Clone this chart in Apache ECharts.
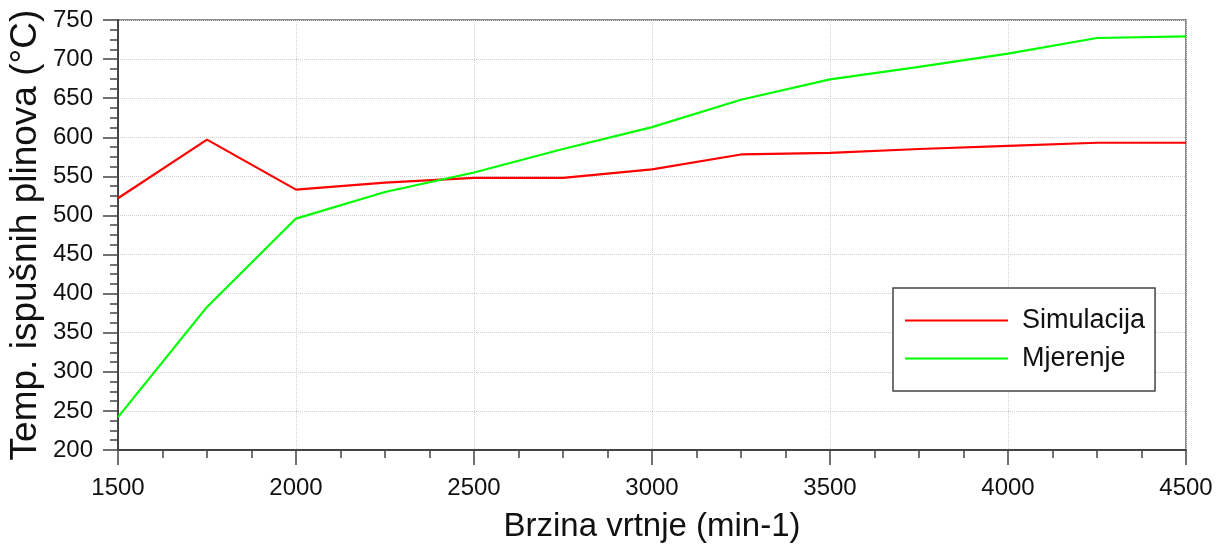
<!DOCTYPE html>
<html>
<head>
<meta charset="utf-8">
<script src="https://cdn.jsdelivr.net/npm/echarts@6/dist/echarts.min.js"></script>
<style>html,body{margin:0;padding:0;background:#fff}#c{width:1223px;height:549px}</style>
</head>
<body>
<div id="c"></div>
<script>
const speeds = [1500, 1750, 2000, 2250, 2500, 2750, 3000, 3250, 3500, 3750, 4000, 4250, 4500];
const simulacija = [522, 597, 533, 542, 548, 548, 559, 578, 580, 585, 589, 593, 593];
const mjerenje = [242, 383, 496, 530, 555, 585, 613, 648, 674, 690, 707, 727, 729];
const seriesNames = ['Simulacija', 'Mjerenje'];
const xTitle = 'Brzina vrtnje (min-1)';
const yTitle = 'Temp. ispušnih plinova (°C)';

const font = 'Liberation Sans, Arial, sans-serif';
const chart = echarts.init(document.getElementById('c'), null, {renderer: 'canvas'});
const pairs = arr => speeds.map((s, i) => [s, arr[i]]);
chart.setOption({
  animation: false,
  backgroundColor: '#fff',
  grid: {left: 118, right: 37, top: 20, bottom: 99, containLabel: false, outerBoundsMode: 'none', show: true, borderColor: '#666', borderWidth: 1.5, backgroundColor: 'transparent'},
  xAxis: {
    type: 'value', min: 1500, max: 4500, interval: 500,
    name: xTitle, nameLocation: 'middle', nameGap: 60, nameMoveOverlap: false,
    nameTextStyle: {fontFamily: font, fontSize: 33, color: '#111'},
    axisLine: {show: true, lineStyle: {color: '#444', width: 2}},
    axisTick: {show: true, inside: false, length: 15, lineStyle: {color: '#444', width: 1.5}},
    minorTick: {show: true, splitNumber: 4, length: 8, lineStyle: {color: '#444', width: 1.5}},
    axisLabel: {fontFamily: font, fontSize: 24, color: '#111', margin: 26, formatter: v => String(v)},
    splitLine: {show: true, lineStyle: {color: '#cfcfcf', type: 'dotted', width: 1}}
  },
  yAxis: {
    type: 'value', min: 200, max: 750, interval: 50,
    name: yTitle, nameLocation: 'middle', nameGap: 74, nameMoveOverlap: false,
    nameTextStyle: {fontFamily: font, fontSize: 37, color: '#111'},
    axisLine: {show: true, lineStyle: {color: '#444', width: 2}},
    axisTick: {show: true, inside: false, length: 15, lineStyle: {color: '#444', width: 1.5}},
    minorTick: {show: true, splitNumber: 4, length: 8, lineStyle: {color: '#444', width: 1.5}},
    axisLabel: {fontFamily: font, fontSize: 24, color: '#111', margin: 25, formatter: v => String(v)},
    splitLine: {show: true, lineStyle: {color: '#cfcfcf', type: 'dotted', width: 1}}
  },
  legend: {
    show: true, orient: 'vertical', left: 893, top: 288,
    data: seriesNames,
    icon: 'rect', itemWidth: 103, itemHeight: 2, itemGap: 11,
    padding: [19, 10, 19, 12],
    borderColor: '#444', borderWidth: 1.5, backgroundColor: '#fff',
    textStyle: {fontFamily: font, fontSize: 27, color: '#111', padding: [0, 0, 0, 9]}
  },
  series: [
    {name: seriesNames[0], type: 'line', data: pairs(simulacija), symbol: 'none', lineStyle: {color: '#ff0000', width: 2.2}, itemStyle: {color: '#ff0000'}},
    {name: seriesNames[1], type: 'line', data: pairs(mjerenje), symbol: 'none', lineStyle: {color: '#00ff00', width: 2.2}, itemStyle: {color: '#00ff00'}}
  ]
});
</script>
</body>
</html>
